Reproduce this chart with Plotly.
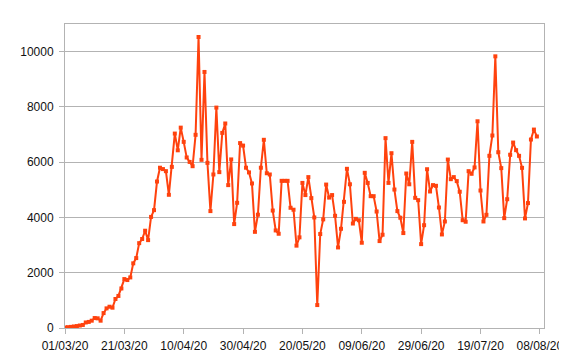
import plotly.graph_objects as go
import pandas as pd

start_date = "2020-03-01"
values = [
    20, 30, 40, 55, 70, 90, 110, 200, 220, 265,
    360, 350, 265, 540, 710, 770, 735, 1050, 1160, 1430,
    1770, 1735, 1830, 2340, 2530, 3070, 3220, 3520, 3180, 4020,
    4265, 5300, 5800, 5750, 5675, 4820, 5830, 7035, 6430, 7250,
    6735, 6170, 6010, 5855, 6990, 10530, 6085, 9265, 5975, 4230,
    5555, 7975, 5640, 7060, 7400, 5170, 6100, 3760, 4530, 6690,
    6600, 5800, 5630, 5230, 3480, 4100, 5800, 6810, 5600, 5555,
    4250, 3530, 3410, 5325, 5325, 5325, 4350, 4280, 2980, 3280,
    5250, 4810, 5460, 4700, 4000, 830, 3400, 3930, 5190, 4720,
    4810, 4060, 2915, 3590, 4565, 5760, 5200, 3780, 3950, 3900,
    3085, 5615, 5250, 4770, 4770, 4215, 3145, 3375, 6870, 5250,
    6325, 5010, 4230, 3990, 3435, 5590, 5200, 6735, 4710, 4625,
    3035, 3720, 5745, 4940, 5170, 5145, 4360, 3385, 3855, 6095,
    5385, 5460, 5315, 4930, 3900, 3845, 5675, 5580, 5810, 7480,
    4975, 3855, 4095, 6230, 6965, 9830, 6360, 5785, 3975, 4660,
    6265, 6710, 6435, 6230, 5795, 3965, 4520, 6820, 7180, 6930,
]
dates = pd.date_range(start_date, periods=len(values), freq="D")

y_ticks = [0, 2000, 4000, 6000, 8000, 10000]
y_tick_labels = ["0", "2000", "4000", "6000", "8000", "10000"]

fig = go.Figure(
    go.Scatter(
        x=dates,
        y=values,
        mode="lines+markers",
        line=dict(color="#ff420e", width=2),
        marker=dict(symbol="square", size=4, color="#ff420e"),
        hoverinfo="x+y",
    )
)

grid = "#b3b3b3"
fig.update_layout(
    width=567,
    height=360,
    margin=dict(l=50, r=28, t=16, b=40),
    paper_bgcolor="white",
    plot_bgcolor="white",
    showlegend=False,
    font=dict(family="Liberation Sans, Arial, sans-serif", size=12, color="#111111"),
)
fig.update_xaxes(
    type="date",
    range=[pd.Timestamp(start_date), pd.Timestamp(start_date) + pd.Timedelta(days=161.4)],
    tick0=start_date,
    dtick=20 * 86400000,
    tickformat="%d/%m/%y",
    ticks="outside",
    ticklen=5,
    tickcolor=grid,
    ticklabelstandoff=2,
    showgrid=False,
    showline=True,
    linecolor=grid,
    linewidth=1,
    mirror=True,
    zeroline=False,
)
fig.update_yaxes(
    range=[0, 11000],
    tickvals=y_ticks,
    ticktext=y_tick_labels,
    ticks="outside",
    ticklen=5,
    tickcolor=grid,
    ticklabelstandoff=3,
    showgrid=True,
    gridcolor=grid,
    gridwidth=1,
    showline=True,
    linecolor=grid,
    linewidth=1,
    mirror=True,
    zeroline=False,
)

fig.write_html("out.html")
